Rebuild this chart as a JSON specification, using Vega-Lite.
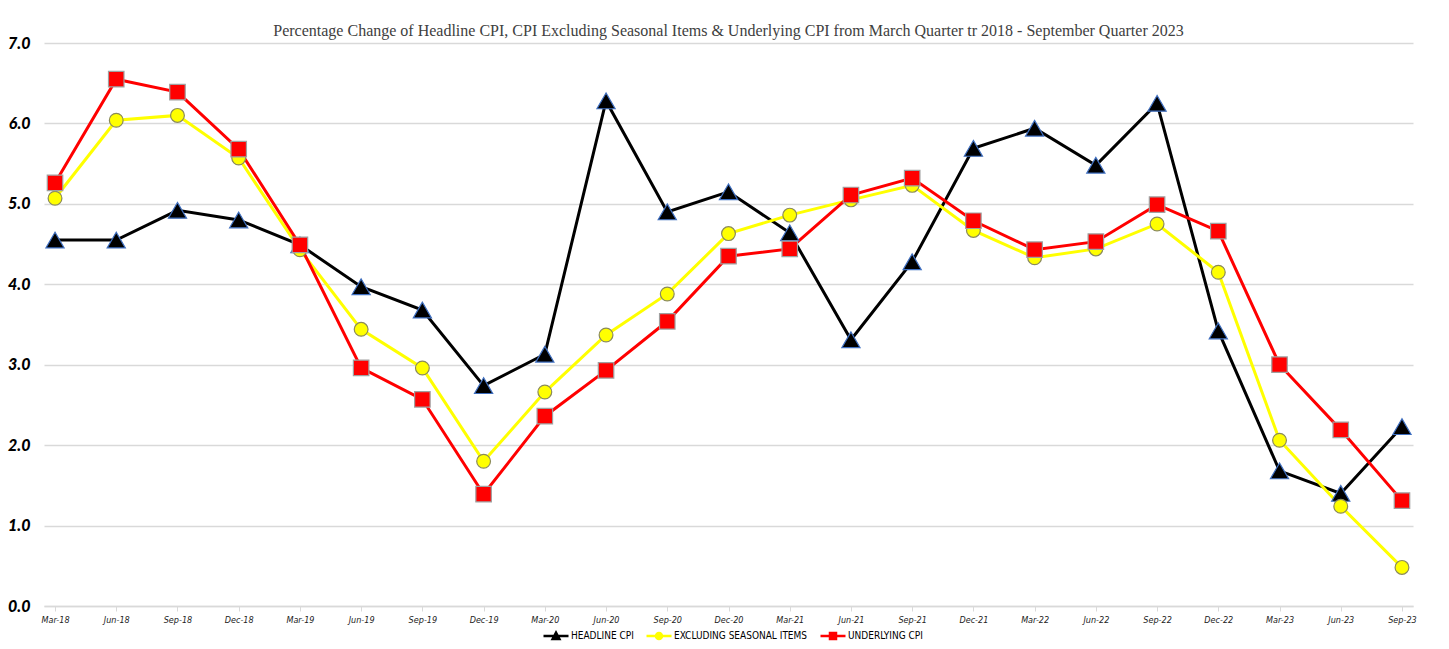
{
  "$schema": "https://vega.github.io/schema/vega-lite/v6.json",
  "width": 1369,
  "height": 563,
  "autosize": {"type": "none"},
  "padding": {"left": 44, "top": 43, "right": 36, "bottom": 43},
  "background": "white",
  "title": {
    "text": "Percentage Change of  Headline CPI, CPI Excluding Seasonal Items & Underlying CPI from March Quarter tr 2018 - September Quarter 2023",
    "font": "Liberation Serif",
    "fontSize": 16,
    "fontWeight": "normal",
    "color": "#404040",
    "anchor": "middle",
    "offset": -4
  },
  "data": {
    "values": [
      {"q": "Mar-18", "series": "HEADLINE CPI", "v": 4.55},
      {"q": "Jun-18", "series": "HEADLINE CPI", "v": 4.55},
      {"q": "Sep-18", "series": "HEADLINE CPI", "v": 4.92},
      {"q": "Dec-18", "series": "HEADLINE CPI", "v": 4.8},
      {"q": "Mar-19", "series": "HEADLINE CPI", "v": 4.49},
      {"q": "Jun-19", "series": "HEADLINE CPI", "v": 3.97},
      {"q": "Sep-19", "series": "HEADLINE CPI", "v": 3.68},
      {"q": "Dec-19", "series": "HEADLINE CPI", "v": 2.74},
      {"q": "Mar-20", "series": "HEADLINE CPI", "v": 3.13},
      {"q": "Jun-20", "series": "HEADLINE CPI", "v": 6.28},
      {"q": "Sep-20", "series": "HEADLINE CPI", "v": 4.9},
      {"q": "Dec-20", "series": "HEADLINE CPI", "v": 5.15},
      {"q": "Mar-21", "series": "HEADLINE CPI", "v": 4.64},
      {"q": "Jun-21", "series": "HEADLINE CPI", "v": 3.31},
      {"q": "Sep-21", "series": "HEADLINE CPI", "v": 4.28},
      {"q": "Dec-21", "series": "HEADLINE CPI", "v": 5.69},
      {"q": "Mar-22", "series": "HEADLINE CPI", "v": 5.94},
      {"q": "Jun-22", "series": "HEADLINE CPI", "v": 5.48},
      {"q": "Sep-22", "series": "HEADLINE CPI", "v": 6.25},
      {"q": "Dec-22", "series": "HEADLINE CPI", "v": 3.42},
      {"q": "Mar-23", "series": "HEADLINE CPI", "v": 1.68},
      {"q": "Jun-23", "series": "HEADLINE CPI", "v": 1.4},
      {"q": "Sep-23", "series": "HEADLINE CPI", "v": 2.23},
      {"q": "Mar-18", "series": "EXCLUDING SEASONAL ITEMS", "v": 5.07},
      {"q": "Jun-18", "series": "EXCLUDING SEASONAL ITEMS", "v": 6.04},
      {"q": "Sep-18", "series": "EXCLUDING SEASONAL ITEMS", "v": 6.1},
      {"q": "Dec-18", "series": "EXCLUDING SEASONAL ITEMS", "v": 5.57},
      {"q": "Mar-19", "series": "EXCLUDING SEASONAL ITEMS", "v": 4.43},
      {"q": "Jun-19", "series": "EXCLUDING SEASONAL ITEMS", "v": 3.44},
      {"q": "Sep-19", "series": "EXCLUDING SEASONAL ITEMS", "v": 2.96},
      {"q": "Dec-19", "series": "EXCLUDING SEASONAL ITEMS", "v": 1.8},
      {"q": "Mar-20", "series": "EXCLUDING SEASONAL ITEMS", "v": 2.66},
      {"q": "Jun-20", "series": "EXCLUDING SEASONAL ITEMS", "v": 3.37},
      {"q": "Sep-20", "series": "EXCLUDING SEASONAL ITEMS", "v": 3.88},
      {"q": "Dec-20", "series": "EXCLUDING SEASONAL ITEMS", "v": 4.63},
      {"q": "Mar-21", "series": "EXCLUDING SEASONAL ITEMS", "v": 4.86},
      {"q": "Jun-21", "series": "EXCLUDING SEASONAL ITEMS", "v": 5.05},
      {"q": "Sep-21", "series": "EXCLUDING SEASONAL ITEMS", "v": 5.23},
      {"q": "Dec-21", "series": "EXCLUDING SEASONAL ITEMS", "v": 4.67},
      {"q": "Mar-22", "series": "EXCLUDING SEASONAL ITEMS", "v": 4.33},
      {"q": "Jun-22", "series": "EXCLUDING SEASONAL ITEMS", "v": 4.44},
      {"q": "Sep-22", "series": "EXCLUDING SEASONAL ITEMS", "v": 4.75},
      {"q": "Dec-22", "series": "EXCLUDING SEASONAL ITEMS", "v": 4.15},
      {"q": "Mar-23", "series": "EXCLUDING SEASONAL ITEMS", "v": 2.06},
      {"q": "Jun-23", "series": "EXCLUDING SEASONAL ITEMS", "v": 1.24},
      {"q": "Sep-23", "series": "EXCLUDING SEASONAL ITEMS", "v": 0.48},
      {"q": "Mar-18", "series": "UNDERLYING CPI", "v": 5.26},
      {"q": "Jun-18", "series": "UNDERLYING CPI", "v": 6.55},
      {"q": "Sep-18", "series": "UNDERLYING CPI", "v": 6.39},
      {"q": "Dec-18", "series": "UNDERLYING CPI", "v": 5.68},
      {"q": "Mar-19", "series": "UNDERLYING CPI", "v": 4.49},
      {"q": "Jun-19", "series": "UNDERLYING CPI", "v": 2.96},
      {"q": "Sep-19", "series": "UNDERLYING CPI", "v": 2.57},
      {"q": "Dec-19", "series": "UNDERLYING CPI", "v": 1.39},
      {"q": "Mar-20", "series": "UNDERLYING CPI", "v": 2.36},
      {"q": "Jun-20", "series": "UNDERLYING CPI", "v": 2.93},
      {"q": "Sep-20", "series": "UNDERLYING CPI", "v": 3.54},
      {"q": "Dec-20", "series": "UNDERLYING CPI", "v": 4.35},
      {"q": "Mar-21", "series": "UNDERLYING CPI", "v": 4.44},
      {"q": "Jun-21", "series": "UNDERLYING CPI", "v": 5.11},
      {"q": "Sep-21", "series": "UNDERLYING CPI", "v": 5.32},
      {"q": "Dec-21", "series": "UNDERLYING CPI", "v": 4.79},
      {"q": "Mar-22", "series": "UNDERLYING CPI", "v": 4.43},
      {"q": "Jun-22", "series": "UNDERLYING CPI", "v": 4.53},
      {"q": "Sep-22", "series": "UNDERLYING CPI", "v": 4.99},
      {"q": "Dec-22", "series": "UNDERLYING CPI", "v": 4.66},
      {"q": "Mar-23", "series": "UNDERLYING CPI", "v": 3.0},
      {"q": "Jun-23", "series": "UNDERLYING CPI", "v": 2.19},
      {"q": "Sep-23", "series": "UNDERLYING CPI", "v": 1.31}
    ]
  },
  "encoding": {
    "x": {
      "field": "q",
      "type": "ordinal",
      "sort": null,
      "scale": {"type": "point", "padding": 0.18},
      "axis": {
        "title": null,
        "labelAngle": 0,
        "labelFont": "DejaVu Sans Condensed, Roboto, sans-serif",
        "labelFontStyle": "italic",
        "labelFontSize": 9,
        "labelColor": "#222222",
        "labelPadding": 4,
        "domainColor": "#d9d9d9",
        "domainWidth": 1.5,
        "tickColor": "#d9d9d9",
        "tickSize": 5,
        "grid": false
      }
    },
    "y": {
      "field": "v",
      "type": "quantitative",
      "scale": {"domain": [0, 7], "nice": false, "zero": true},
      "axis": {
        "title": null,
        "values": [0, 1, 2, 3, 4, 5, 6, 7],
        "format": ".1f",
        "labelFont": "Lato",
        "labelFontStyle": "italic",
        "labelFontWeight": 900,
        "labelFontSize": 16,
        "labelColor": "#000000",
        "labelPadding": 14,
        "ticks": false,
        "tickSize": 0,
        "domain": false,
        "grid": true,
        "gridColor": "#d9d9d9",
        "gridWidth": 1.5
      }
    }
  },
  "layer": [
    {
      "mark": {"type": "line", "strokeWidth": 3},
      "encoding": {
        "color": {
          "field": "series",
          "type": "nominal",
          "sort": null,
          "scale": {
            "domain": ["HEADLINE CPI", "EXCLUDING SEASONAL ITEMS", "UNDERLYING CPI"],
            "range": ["#000000", "#FFFF00", "#FF0000"]
          },
          "legend": {
            "title": null,
            "orient": "none",
            "legendX": 498,
            "legendY": 579,
            "direction": "horizontal",
            "labelFont": "DejaVu Sans Condensed, Roboto, sans-serif",
            "labelFontSize": 10,
            "labelColor": "#000000",
            "labelOffset": 1,
            "labelLimit": 400,
            "columnPadding": 7,
            "symbolSize": 625,
            "symbolStrokeWidth": 2.5,
            "encode": {
              "symbols": {
                "update": {
                  "shape": {"signal": "datum.value == 'HEADLINE CPI' ? 'M-1,0H1M-0.27,0.24L0,-0.26L0.27,0.24Z' : datum.value == 'EXCLUDING SEASONAL ITEMS' ? 'M-1,0H-0.24A0.24,0.24,0,1,1,0.24,0A0.24,0.24,0,1,1,-0.24,0M0.24,0H1' : 'M-1,0H1M-0.24,-0.24H0.24V0.24H-0.24Z'"},
                  "fill": {"signal": "datum.value == 'HEADLINE CPI' ? '#000000' : datum.value == 'EXCLUDING SEASONAL ITEMS' ? '#FFFF00' : '#FF0000'"},
                  "stroke": {"signal": "datum.value == 'HEADLINE CPI' ? '#000000' : datum.value == 'EXCLUDING SEASONAL ITEMS' ? '#FFFF00' : '#FF0000'"},
                  "strokeWidth": {"value": 2.5},
                  "opacity": {"value": 1}
                }
              }
            }
          }
        }
      }
    },
    {
      "transform": [{"filter": "datum.series == 'HEADLINE CPI'"}],
      "mark": {"type": "point", "shape": "triangle-up", "filled": true, "opacity": 1, "fill": "#000000", "stroke": "#3f6fc0", "strokeWidth": 1.2, "size": 330}
    },
    {
      "transform": [{"filter": "datum.series == 'EXCLUDING SEASONAL ITEMS'"}],
      "mark": {"type": "point", "shape": "circle", "filled": true, "opacity": 1, "fill": "#FFFF00", "stroke": "#8a8a5a", "strokeWidth": 1.2, "size": 190}
    },
    {
      "transform": [{"filter": "datum.series == 'UNDERLYING CPI'"}],
      "mark": {"type": "point", "shape": "square", "filled": true, "opacity": 1, "fill": "#FF0000", "stroke": "#a0a0a0", "strokeWidth": 1.2, "size": 240}
    }
  ],
  "config": {
    "view": {"stroke": null}
  }
}
